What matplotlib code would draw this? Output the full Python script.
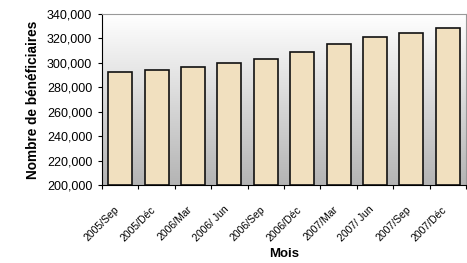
import numpy as np
import matplotlib.pyplot as plt
from matplotlib.colors import LinearSegmentedColormap
from matplotlib.ticker import FuncFormatter, FixedLocator
from matplotlib.transforms import ScaledTranslation

plt.rcParams['font.family'] = ['Liberation Sans', 'DejaVu Sans']

mois = ['2005/Sep', '2005/Déc', '2006/Mar', '2006/ Jun', '2006/Sep',
        '2006/Déc', '2007/Mar', '2007/ Jun', '2007/Sep', '2007/Déc']
beneficiaires = [292300, 294200, 296600, 299900, 303200,
                 309000, 315700, 321000, 324500, 328300]

fig = plt.figure(figsize=(4.67, 2.63), dpi=100)
ax = fig.add_axes([102/467, 1 - 185/263, 364/467, 171/263])

n = len(mois)
x = np.arange(n)
ax.set_xlim(-0.5, n - 0.5)
ax.set_ylim(200000, 340000)

# fond en dégradé blanc -> gris
grad = np.linspace(1.0, 0.0, 256).reshape(-1, 1)
cmap = LinearSegmentedColormap.from_list('g', ['#b4b4b4', '#ffffff'])
ax.imshow(grad, extent=(-0.5, n - 0.5, 200000, 340000), aspect='auto',
          cmap=cmap, zorder=0)

ax.bar(x, [v - 200000 for v in beneficiaires], bottom=200000, width=0.66,
       color='#f1e0bf', edgecolor='#111111', linewidth=1.2, zorder=2)

ax.yaxis.set_major_formatter(FuncFormatter(lambda v, p: f'{int(v):,}'))
ax.set_yticks(range(200000, 340001, 20000))
ax.tick_params(axis='y', labelsize=9, length=3, width=0.8, direction='out', pad=4)

ax.set_xticks(x)
ax.set_xticklabels(mois, rotation=45, ha='right', rotation_mode='anchor', fontsize=7.5)
ax.tick_params(axis='x', which='major', length=0, pad=14)
shift = ScaledTranslation(-6/100, 0, fig.dpi_scale_trans)
for lab in ax.get_xticklabels():
    lab.set_transform(lab.get_transform() + shift)
ax.xaxis.set_minor_locator(FixedLocator(np.arange(-0.5, n, 1.0)))
ax.tick_params(axis='x', which='minor', length=3, width=0.8, direction='out')

for s in ['top', 'right']:
    ax.spines[s].set_color('#999999')
    ax.spines[s].set_linewidth(0.8)
for s in ['left', 'bottom']:
    ax.spines[s].set_color('black')
    ax.spines[s].set_linewidth(0.8)

ax.set_ylabel('Nombre de bénéficiaires', fontsize=9.8, fontweight='bold', labelpad=5)
ax.set_xlabel('Mois', fontsize=9.5, fontweight='bold', labelpad=3)

fig.savefig('out.png', dpi=100)
